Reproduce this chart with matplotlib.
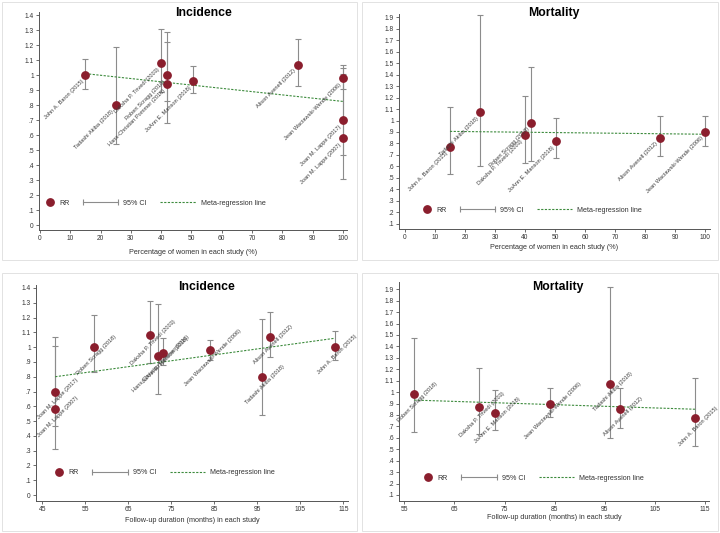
import matplotlib
matplotlib.use("Agg")
import matplotlib.pyplot as plt
import numpy as np
from matplotlib.lines import Line2D
from matplotlib.patches import Rectangle
from matplotlib.legend_handler import HandlerBase, HandlerLine2D
from matplotlib.ticker import FuncFormatter

plt.rcParams['font.family'] = ['Liberation Sans', 'DejaVu Sans']

# ---- data ----
studies = ["John A. Baron (2015)", "Tadashi Akiba (2018)", "Daksha P. Trivedi (2003)",
           "Robert Scragg (2018)", "Hans-Christian Pommer (2016)", "JoAnn E. Manson (2018)",
           "Alison Avenell (2012)", "Jean Wactawski-Wende (2006)", "Joan M. Lappe (2017)",
           "Joan M. Lappe (2007)"]
pct_women = [15, 25, 40, 42, 42, 50.5, 85, 100, 100, 100]
follow_up = [113, 96, 70, 57, 72, 73, 98, 84, 48, 48]

inc_rr = [1.00, 0.80, 1.08, 1.00, 0.94, 0.96, 1.07, 0.98, 0.70, 0.58]
inc_lo = [0.91, 0.54, 0.89, 0.83, 0.68, 0.88, 0.93, 0.91, 0.47, 0.31]
inc_hi = [1.11, 1.19, 1.31, 1.22, 1.29, 1.06, 1.24, 1.05, 1.01, 1.07]

nan = np.nan
mort_rr = [0.77, 1.07, 0.87, 0.98, nan, 0.82, 0.85, 0.90, nan, nan]
mort_lo = [0.53, 0.60, 0.63, 0.65, nan, 0.67, 0.69, 0.78, nan, nan]
mort_hi = [1.12, 1.92, 1.21, 1.47, nan, 1.02, 1.04, 1.04, nan, nan]

# meta-regression fits: (intercept, slope)
fit_inc_women = (1.0427, -0.002176)
fit_mort_women = (0.9094, -0.000294)
fit_inc_follow = (0.608, 0.0040)
fit_mort_follow = (1.0114, -0.001429)

MAROON = '#8a1e2d'
GRAY = '#8c8c8c'
GREEN = '#3d8b3d'
DASH = (0, (2, 1.3))

W, H = 720, 533
fig = plt.figure(figsize=(7.2, 5.33), dpi=100)


def fx(px):
    return px / W


def fy(py):
    return 1 - py / H


class DotHandler(HandlerBase):
    # marker sits at the right end of the key, close to its text
    def create_artists(self, legend, orig_handle, xdescent, ydescent, width, height, fontsize, trans):
        x = width - xdescent - 0.6 * fontsize
        y = (height - ydescent) / 2
        dot = Line2D([x], [y], linestyle='none', marker='o',
                     markersize=orig_handle.get_markersize(),
                     color=orig_handle.get_markerfacecolor())
        dot.set_transform(trans)
        return [dot]


def tick_fmt(v, pos):
    s = f"{v:.1f}"
    if s.endswith('.0'):
        s = s[:-2]
    if s.startswith('0.'):
        s = s[1:]
    return s


def draw_panel(box, xlim, ylim, xticks, yticks, x, rr, lo, hi, fit, title, title_xy,
               xlabel, labelpad, label_mode, legend_xy):
    l, t, r, b = box
    ax = fig.add_axes([fx(l), fy(b), (r - l) / W, (b - t) / H])
    x = np.asarray(x, float)
    rr = np.asarray(rr, float)
    lo = np.asarray(lo, float)
    hi = np.asarray(hi, float)
    ok = ~np.isnan(rr)
    x, rr, lo, hi = x[ok], rr[ok], lo[ok], hi[ok]
    names = [s for s, k in zip(studies, ok) if k]

    ax.errorbar(x, rr, yerr=[rr - lo, hi - rr], fmt='none', ecolor=GRAY,
                elinewidth=0.8, capsize=2.2, capthick=0.8, zorder=2)
    xs = np.array([x.min(), x.max()])
    ax.plot(xs, fit[0] + fit[1] * xs, color=GREEN, lw=0.8, linestyle=DASH, zorder=3)
    ax.plot(x, rr, 'o', color=MAROON, markersize=5.3, zorder=4)

    for name, xi, yi in zip(names, x, rr):
        if label_mode == 'lowerleft':
            ax.annotate(name, (xi, yi), xytext=(-2, -4), textcoords='offset points',
                        rotation=45, rotation_mode='anchor', ha='right', va='center',
                        fontsize=4.1, color='#3a3a3a', zorder=5)
        else:
            ax.annotate(name, (xi, yi), xytext=(2, -5.4), textcoords='offset points',
                        rotation=45, rotation_mode='anchor', ha='center', va='center',
                        fontsize=4.1, color='#3a3a3a', zorder=5)

    ax.set_xlim(*xlim)
    ax.set_ylim(*ylim)
    ax.set_xticks(xticks)
    ax.set_yticks(yticks)
    ax.yaxis.set_major_formatter(FuncFormatter(tick_fmt))
    for side in ['top', 'right']:
        ax.spines[side].set_visible(False)
    for side in ['left', 'bottom']:
        ax.spines[side].set_color('#555555')
        ax.spines[side].set_linewidth(0.7)
    ax.tick_params(length=2.2, width=0.6, color='#555555', labelsize=4.8,
                   labelcolor='#333333', pad=1.5)
    ax.set_xlabel(xlabel, fontsize=5.2, color='#333333', labelpad=labelpad)
    ax.patch.set_alpha(0)

    fig.text(fx(title_xy[0]), fy(title_xy[1]), title, fontsize=8.8, fontweight='bold',
             ha='center', va='center')

    h_rr = Line2D([], [], marker='o', color=MAROON, linestyle='none', markersize=5.3)
    h_ci = Line2D([], [], color=GRAY, marker='|', markersize=4.5, lw=0.8, mew=0.8)
    h_fit = Line2D([], [], color=GREEN, lw=0.8, linestyle=DASH)
    ax.legend([h_rr, h_ci, h_fit], ['RR', '95% CI', 'Meta-regression line'],
              handler_map={h_rr: DotHandler(), h_ci: HandlerLine2D(numpoints=2, marker_pad=0)},
              ncol=3, handlelength=5, handletextpad=0.7, columnspacing=1.9,
              borderpad=0, borderaxespad=0, frameon=False, fontsize=5.1,
              labelcolor='#333333', loc='center left',
              bbox_to_anchor=(fx(legend_xy[0]), fy(legend_xy[1])),
              bbox_transform=fig.transFigure)
    return ax


inc_yticks = np.round(np.arange(0, 1.41, 0.1), 1)
mort_yticks = np.round(np.arange(0.1, 1.91, 0.1), 1)

draw_panel((39, 12, 347, 230), (-0.3, 101.3), (-0.03, 1.42), np.arange(0, 101, 10), inc_yticks,
           pct_women, inc_rr, inc_lo, inc_hi, fit_inc_women, 'Incidence', (203, 12.7),
           'Percentage of women in each study (%)', 5.0, 'lowerleft', (18.8, 203))

draw_panel((399, 14, 710, 229.3), (-2, 101.7), (0.05, 1.93), np.arange(0, 101, 10), mort_yticks,
           pct_women, mort_rr, mort_lo, mort_hi, fit_mort_women, 'Mortality', (553.5, 12.7),
           'Percentage of women in each study (%)', 2.0, 'lowerleft', (395.5, 210))

draw_panel((36, 285, 347.7, 501), (43.53, 116.0), (-0.04, 1.42), np.arange(45, 116, 10), inc_yticks,
           follow_up, inc_rr, inc_lo, inc_hi, fit_inc_follow, 'Incidence', (206.7, 286.7),
           'Follow-up duration (months) in each study', 3.0, 'center', (28.1, 472.7))

draw_panel((399, 281.7, 709, 501), (53.94, 115.8), (0.047, 1.966), np.arange(55, 116, 10), mort_yticks,
           follow_up, mort_rr, mort_lo, mort_hi, fit_mort_follow, 'Mortality', (557.5, 287.3),
           'Follow-up duration (months) in each study', 0.8, 'center', (397.1, 478.3))

# light frames around each of the four combined graphs
for (l, t, r, b) in [(2, 2, 357, 260), (362, 2, 718, 260), (2, 273, 357, 531), (362, 273, 718, 531)]:
    fig.patches.append(Rectangle((fx(l), fy(b)), (r - l) / W, (b - t) / H, transform=fig.transFigure,
                                 fill=False, edgecolor='#e2e2e2', lw=0.7))

fig.savefig('out.png', dpi=100)
